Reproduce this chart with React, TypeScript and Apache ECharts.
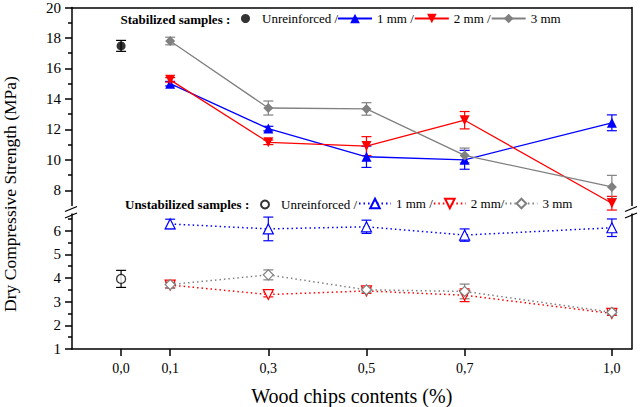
import React, { useEffect, useRef } from "react";
import * as echarts from "echarts";

// ---- data ----
const xPositions = [0.1, 0.3, 0.5, 0.7, 1.0];
const unreinforcedX = 0.0;
const xTickValues = [0.0, 0.1, 0.3, 0.5, 0.7, 1.0];
const upperMajorTicks = [8, 10, 12, 14, 16, 18, 20];
const upperMinorTicks = [9, 11, 13, 15, 17, 19];
const lowerMajorTicks = [1, 2, 3, 4, 5, 6];
const lowerMinorTicks = [1.5, 2.5, 3.5, 4.5, 5.5, 6.5];

// Stabilized samples
const stabUnreinforced = 17.48;
const stabUnreinforcedErr = 0.36;
const stab1mm = [15.0, 12.05, 10.2, 10.0, 12.43];
const stab1mmErr = [0.15, 0.15, 0.7, 0.62, 0.52];
const stab2mm = [15.25, 11.15, 10.9, 12.6, 7.15];
const stab2mmErr = [0.15, 0.15, 0.62, 0.57, 0.45];
const stab3mm = [17.8, 13.4, 13.34, 10.29, 8.22];
const stab3mmErr = [0.25, 0.46, 0.41, 0.48, 0.76];

// Unstabilized samples
const unstUnreinforced = 3.96;
const unstUnreinforcedErr = 0.36;
const unst1mm = [6.28, 6.07, 6.16, 5.81, 6.12];
const unst1mmErr = [0.2, 0.5, 0.28, 0.26, 0.37];
const unst2mm = [3.7, 3.3, 3.45, 3.27, 2.5];
const unst2mmErr = [0.12, 0.1, 0.1, 0.27, 0.08];
const unst3mm = [3.72, 4.13, 3.5, 3.43, 2.55];
const unst3mmErr = [0.15, 0.21, 0.1, 0.31, 0.08];

const legendNames: Record<string, string> = {
  stabU: "Unreinforced /",
  stab1: "1 mm /",
  stab2: "2 mm /",
  stab3: "3 mm",
  unstU: "Unreinforced /",
  unst1: "1 mm /",
  unst2: "2 mm/",
  unst3: "3 mm",
};

const FONT = "Liberation Serif";
const BLUE = "#0000ff";
const RED = "#ff0000";
const GRAY = "#808080";
const BLACK = "#000000";

const X_MIN = -0.1;
const X_MAX = 1.04;

function pairs(xs: number[], ys: number[]) {
  return xs.map((x, i) => [x, ys[i]]);
}

function errData(xs: number[], ys: number[], es: number[]) {
  return xs.map((x, i) => [x, ys[i] - es[i], ys[i] + es[i]]);
}

function errorSeries(
  name: string,
  data: number[][],
  color: string,
  xAxisIndex: number,
  yAxisIndex: number
) {
  return {
    type: "custom",
    name,
    xAxisIndex,
    yAxisIndex,
    z: 2,
    silent: true,
    encode: { x: 0, y: [1, 2] },
    data,
    renderItem: (params: any, api: any) => {
      const x = api.value(0);
      const lo = api.coord([x, api.value(1)]);
      const hi = api.coord([x, api.value(2)]);
      const hw = 5;
      const style = { stroke: color, lineWidth: 1.2, fill: "none" };
      return {
        type: "group",
        children: [
          { type: "line", shape: { x1: lo[0], y1: lo[1], x2: hi[0], y2: hi[1] }, style },
          { type: "line", shape: { x1: lo[0] - hw, y1: lo[1], x2: lo[0] + hw, y2: lo[1] }, style },
          { type: "line", shape: { x1: hi[0] - hw, y1: hi[1], x2: hi[0] + hw, y2: hi[1] }, style },
        ],
      };
    },
  };
}

function solidLine(name: string, data: number[][], color: string, symbol: string, rotate = 0) {
  return {
    type: "line",
    name,
    xAxisIndex: 0,
    yAxisIndex: 0,
    data,
    z: 3,
    symbol,
    symbolSize: 10,
    symbolRotate: rotate,
    lineStyle: { color, width: 1.3, type: "solid" },
    itemStyle: { color, borderWidth: 0 },
  };
}

function dottedLine(name: string, data: number[][], color: string, symbol: string, rotate = 0) {
  return {
    type: "line",
    name,
    xAxisIndex: 1,
    yAxisIndex: 3,
    data,
    z: 3,
    symbol,
    symbolSize: 10,
    symbolRotate: rotate,
    lineStyle: { color, width: 1.5, type: [1.5, 3] },
    itemStyle: { color: "#ffffff", borderColor: color, borderWidth: 1.2 },
  };
}

export default function App() {
  const ref = useRef<HTMLDivElement>(null);

  useEffect(() => {
    if (!ref.current) return;
    const chart = echarts.init(ref.current, undefined, { renderer: "svg" });

    const axisLineStyle = { color: BLACK, width: 1.5 };
    const textStyle = { fontFamily: FONT, color: BLACK };

    const legendText = { fontFamily: FONT, fontSize: 13, color: BLACK };
    const legendTextPadded = { fontFamily: FONT, fontSize: 13, color: BLACK, padding: [0, 0, 0, 7] };
    const legendFormatter = (n: string) => legendNames[n] ?? n;

    const option: any = {
      animation: false,
      backgroundColor: "#ffffff",
      textStyle,
      grid: [
        { left: 72, right: 8.5, top: 6, height: 199.5, containLabel: false },
        { left: 72, right: 8.5, top: 214, bottom: 57.7, containLabel: false },
      ],
      xAxis: [
        {
          type: "value",
          gridIndex: 0,
          position: "top",
          min: X_MIN,
          max: X_MAX,
          axisLine: { show: true, onZero: false, lineStyle: axisLineStyle },
          axisTick: { show: false },
          axisLabel: { show: false },
          splitLine: { show: false },
        },
        {
          type: "value",
          gridIndex: 1,
          position: "bottom",
          min: X_MIN,
          max: X_MAX,
          axisLine: { show: true, onZero: false, lineStyle: axisLineStyle },
          axisTick: {
            show: true,
            customValues: xTickValues,
            length: 7,
            lineStyle: { color: BLACK, width: 1.5 },
          },
          axisLabel: {
            show: true,
            customValues: xTickValues,
            margin: 12,
            fontFamily: FONT,
            fontSize: 14,
            color: BLACK,
            formatter: (v: number) => v.toFixed(1).replace(".", ","),
          },
          splitLine: { show: false },
          name: "Wood chips contents (%)",
          nameLocation: "middle",
          nameGap: 37,
          nameTextStyle: { fontFamily: FONT, fontSize: 20, color: BLACK },
        },
      ],
      yAxis: [
        {
          type: "value",
          gridIndex: 0,
          position: "left",
          min: 7,
          max: 20,
          axisLine: { show: true, onZero: false, lineStyle: axisLineStyle },
          axisTick: {
            show: true,
            customValues: upperMajorTicks,
            length: 7,
            lineStyle: { color: BLACK, width: 1.5 },
          },
          axisLabel: {
            show: true,
            customValues: upperMajorTicks,
            margin: 11,
            fontFamily: FONT,
            fontSize: 15,
            color: BLACK,
          },
          splitLine: { show: false },
        },
        {
          type: "value",
          gridIndex: 0,
          position: "left",
          min: 7,
          max: 20,
          axisLine: { show: false, onZero: false },
          axisTick: {
            show: true,
            customValues: upperMinorTicks,
            length: 4,
            lineStyle: { color: BLACK, width: 1.5 },
          },
          axisLabel: { show: false },
          splitLine: { show: false },
        },
        {
          type: "value",
          gridIndex: 0,
          position: "right",
          min: 7,
          max: 20,
          axisLine: { show: true, onZero: false, lineStyle: axisLineStyle },
          axisTick: { show: false },
          axisLabel: { show: false },
          splitLine: { show: false },
        },
        {
          type: "value",
          gridIndex: 1,
          position: "left",
          min: 1,
          max: 6.7,
          axisLine: { show: true, onZero: false, lineStyle: axisLineStyle },
          axisTick: {
            show: true,
            customValues: lowerMajorTicks,
            length: 7,
            lineStyle: { color: BLACK, width: 1.5 },
          },
          axisLabel: {
            show: true,
            customValues: lowerMajorTicks,
            margin: 11,
            fontFamily: FONT,
            fontSize: 15,
            color: BLACK,
          },
          splitLine: { show: false },
        },
        {
          type: "value",
          gridIndex: 1,
          position: "left",
          min: 1,
          max: 6.7,
          axisLine: { show: false, onZero: false },
          axisTick: {
            show: true,
            customValues: lowerMinorTicks,
            length: 4,
            lineStyle: { color: BLACK, width: 1.5 },
          },
          axisLabel: { show: false },
          splitLine: { show: false },
        },
        {
          type: "value",
          gridIndex: 1,
          position: "right",
          min: 1,
          max: 6.7,
          axisLine: { show: true, onZero: false, lineStyle: axisLineStyle },
          axisTick: { show: false },
          axisLabel: { show: false },
          splitLine: { show: false },
        },
      ],
      legend: [
        {
          data: ["stabU"],
          left: 241,
          top: 12,
          padding: 0,
          itemWidth: 9,
          itemHeight: 9,
          itemGap: 0,
          selectedMode: false,
          formatter: legendFormatter,
          textStyle: legendTextPadded,
        },
        {
          data: ["stab1", "stab2", "stab3"],
          left: 337,
          top: 12,
          padding: 0,
          itemWidth: 34,
          itemHeight: 12,
          itemGap: 0,
          selectedMode: false,
          formatter: legendFormatter,
          textStyle: legendText,
        },
        {
          data: ["unstU"],
          left: 260,
          top: 198,
          padding: 0,
          itemWidth: 8,
          itemHeight: 8,
          itemGap: 0,
          selectedMode: false,
          formatter: legendFormatter,
          textStyle: legendTextPadded,
        },
        {
          data: ["unst1", "unst2", "unst3"],
          left: 358,
          top: 197,
          padding: 0,
          itemWidth: 32,
          itemHeight: 12,
          itemGap: 0,
          selectedMode: false,
          formatter: legendFormatter,
          textStyle: legendText,
        },
      ],
      graphic: [
        {
          type: "text",
          x: 120.5,
          y: 19,
          style: {
            text: "Stabilized samples :",
            fontFamily: FONT,
            fontSize: 13,
            fontWeight: "bold",
            fill: BLACK,
            textAlign: "left",
            textVerticalAlign: "middle",
          },
        },
        {
          type: "text",
          x: 125,
          y: 204,
          style: {
            text: "Unstabilized samples :",
            fontFamily: FONT,
            fontSize: 13,
            fontWeight: "bold",
            fill: BLACK,
            textAlign: "left",
            textVerticalAlign: "middle",
          },
        },
        {
          type: "text",
          x: 10,
          y: 194,
          rotation: Math.PI / 2,
          style: {
            text: "Dry Compressive Strength (MPa)",
            fontFamily: FONT,
            fontSize: 17.5,
            fill: BLACK,
            textAlign: "center",
            textVerticalAlign: "middle",
          },
        },
        // axis break marks (left)
        { type: "line", shape: { x1: 65, y1: 211.5, x2: 77, y2: 206.5 }, style: { stroke: BLACK, lineWidth: 1.3 } },
        { type: "line", shape: { x1: 65, y1: 218, x2: 77, y2: 213 }, style: { stroke: BLACK, lineWidth: 1.3 } },
        // axis break marks (right)
        { type: "line", shape: { x1: 625, y1: 211.5, x2: 637, y2: 206.5 }, style: { stroke: BLACK, lineWidth: 1.3 } },
        { type: "line", shape: { x1: 625, y1: 218, x2: 637, y2: 213 }, style: { stroke: BLACK, lineWidth: 1.3 } },
      ],
      series: [
        // error bars - stabilized
        errorSeries("eStabU", errData([unreinforcedX], [stabUnreinforced], [stabUnreinforcedErr]), BLACK, 0, 0),
        errorSeries("eStab1", errData(xPositions, stab1mm, stab1mmErr), BLUE, 0, 0),
        errorSeries("eStab2", errData(xPositions, stab2mm, stab2mmErr), RED, 0, 0),
        errorSeries("eStab3", errData(xPositions, stab3mm, stab3mmErr), GRAY, 0, 0),
        // error bars - unstabilized
        errorSeries("eUnstU", errData([unreinforcedX], [unstUnreinforced], [unstUnreinforcedErr]), BLACK, 1, 3),
        errorSeries("eUnst1", errData(xPositions, unst1mm, unst1mmErr), BLUE, 1, 3),
        errorSeries("eUnst2", errData(xPositions, unst2mm, unst2mmErr), RED, 1, 3),
        errorSeries("eUnst3", errData(xPositions, unst3mm, unst3mmErr), GRAY, 1, 3),
        // stabilized
        {
          type: "scatter",
          name: "stabU",
          xAxisIndex: 0,
          yAxisIndex: 0,
          z: 3,
          symbol: "circle",
          symbolSize: 9,
          data: [[unreinforcedX, stabUnreinforced]],
          itemStyle: { color: BLACK },
        },
        solidLine("stab1", pairs(xPositions, stab1mm), BLUE, "triangle"),
        solidLine("stab2", pairs(xPositions, stab2mm), RED, "triangle", 180),
        solidLine("stab3", pairs(xPositions, stab3mm), GRAY, "diamond"),
        // unstabilized
        {
          type: "scatter",
          name: "unstU",
          xAxisIndex: 1,
          yAxisIndex: 3,
          z: 3,
          symbol: "circle",
          symbolSize: 9,
          data: [[unreinforcedX, unstUnreinforced]],
          itemStyle: { color: "#ffffff", borderColor: BLACK, borderWidth: 1.3 },
        },
        dottedLine("unst1", pairs(xPositions, unst1mm), BLUE, "triangle"),
        dottedLine("unst2", pairs(xPositions, unst2mm), RED, "triangle", 180),
        dottedLine("unst3", pairs(xPositions, unst3mm), GRAY, "diamond"),
      ],
    };

    chart.setOption(option);
    return () => {
      chart.dispose();
    };
  }, []);

  return (
    <div
      ref={ref}
      style={{ position: "fixed", left: 0, top: 0, width: 640, height: 407, background: "#fff" }}
    />
  );
}
